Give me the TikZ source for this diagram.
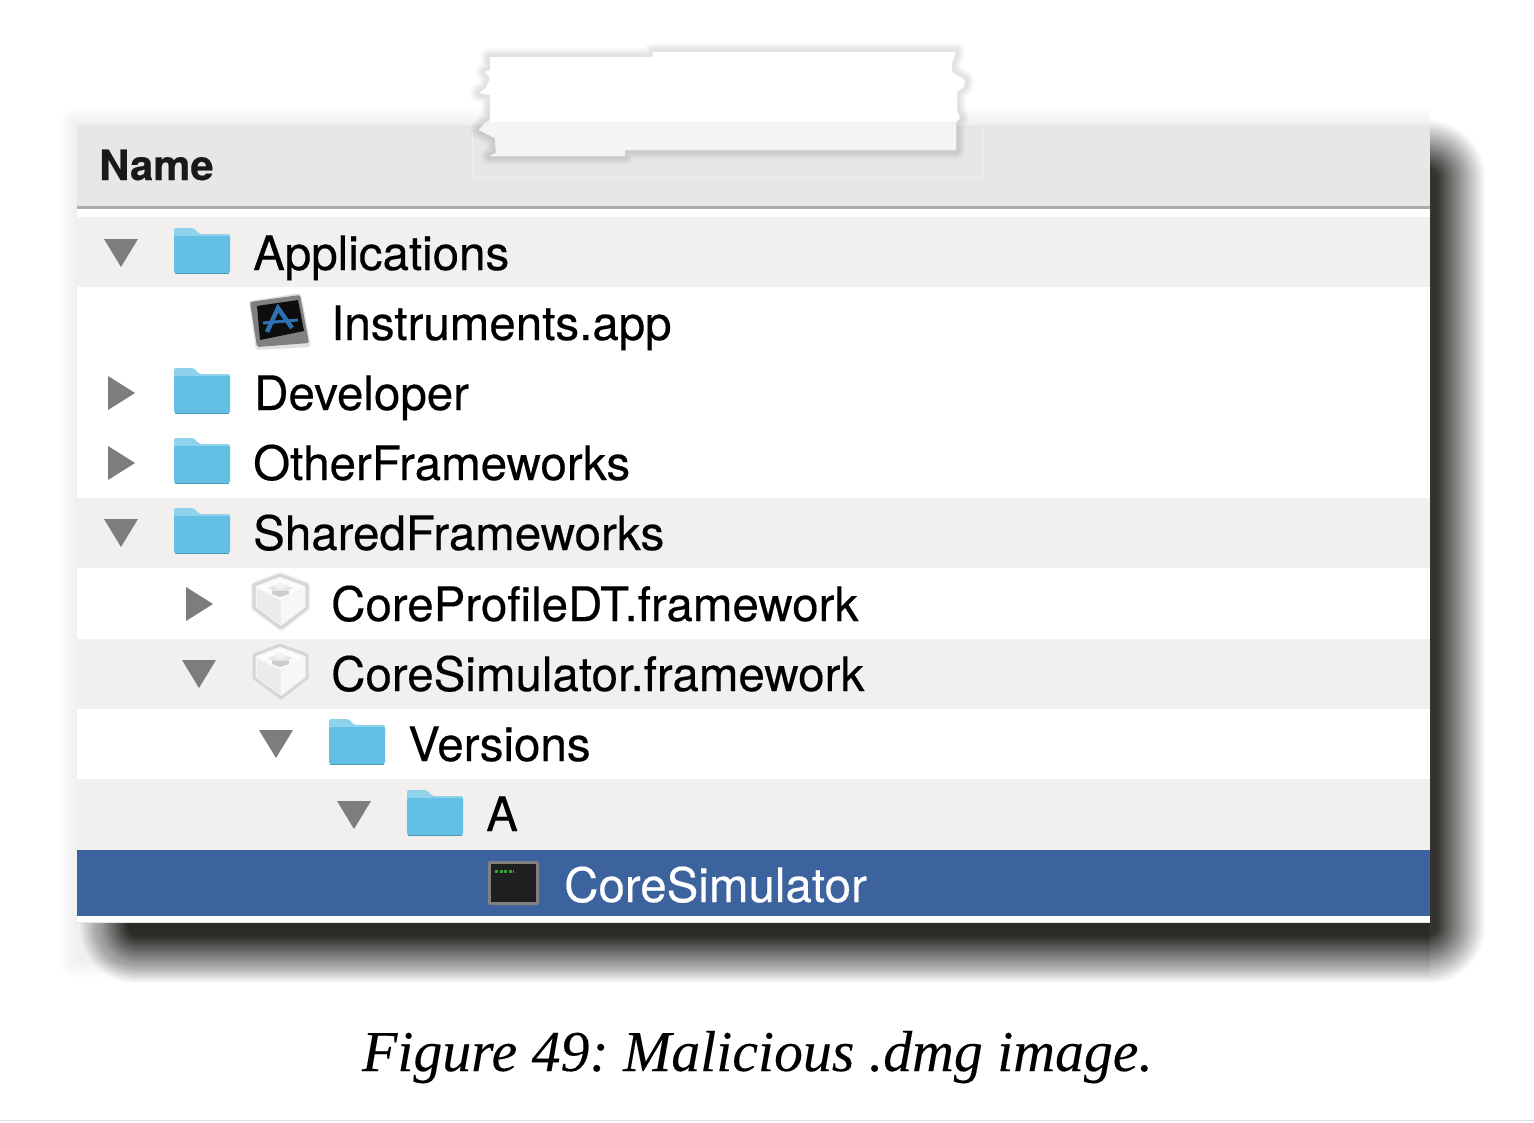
\documentclass[tikz,border=0pt]{standalone}
\usepackage{fontspec}
\setmainfont{TeX Gyre Heros}
\newfontfamily\rowfont[FakeBold=0.35]{TeX Gyre Heros}
\newfontfamily\namefont[FakeBold=0.35]{TeX Gyre Heros Bold}
\newfontfamily\captionfont[FakeBold=0.15]{Liberation Serif Italic}
\usetikzlibrary{calc}
\definecolor{headfill}{HTML}{E8E7E5}
\definecolor{stripefill}{HTML}{F1F0EE}
\definecolor{selfill}{HTML}{3C639D}
\definecolor{folderfill}{HTML}{63BFE4}
\definecolor{foldertab}{HTML}{8FD2EC}
\definecolor{triangfill}{HTML}{7B7D7E}
\definecolor{shadowink}{HTML}{2A2825}
\definecolor{patchlow}{HTML}{F5F4F2}
\definecolor{appblue}{HTML}{2F70B0}
\newcommand{\patchoutline}{(490,57) -- (653,57) -- (653,52) -- (956,52) -- (952,63) -- (952,72)
  -- (965,80) -- (964,87) -- (957,92) -- (957,110) -- (960,118) -- (956,122) -- (956,150)
  -- (625,150) -- (625,156) -- (490,156) -- (496,153) -- (495,138) -- (479,130) -- (485,123)
  -- (490,120) -- (490,95) -- (479,93) -- (486,88) -- (490,78) -- (485,72) -- (490,70) -- cycle}

\begin{document}
\begin{tikzpicture}[
  x=1pt, y=-1pt,
  rowtext/.style  = {anchor=base west, inner sep=0pt, text=black,
                     font=\fontsize{47.5}{47.5}\selectfont\rowfont},
  headtext/.style = {anchor=base west, inner sep=0pt, text=black!90,
                     font=\fontsize{41.8}{41.8}\selectfont\namefont},
  stripe/.style   = {fill=stripefill, draw=none},
  folder/.pic = {
    \fill[foldertab, rounded corners=2pt] (-28,-25) -- (-8,-25) -- (-3,-19) -- (28,-19)
        -- (28,-10) -- (-28,-10) -- cycle;
    \fill[folderfill, rounded corners=2pt] (-28,-17) -- (28,-17) -- (28,20) -- (-28,20) -- cycle;
    \fill[folderfill!80!black] (-27,20) rectangle (27,21);
  },
  treedown/.pic  = {\fill[triangfill] (-17,-14) -- (17,-14) -- (0,14) -- cycle;},
  treeright/.pic = {\fill[triangfill] (-13,-17) -- (14,0) -- (-13,17) -- cycle;},
  bundle/.pic = {
    \draw[black!6, line width=6pt, line join=round, fill=white]
        (-1,-28) -- (26,-18) -- (26,5) -- (0,25) -- (-27,5) -- (-27,-18) -- cycle;
    \draw[black!16, line width=3pt, line join=round, fill=black!4]
        (-1,-28) -- (26,-18) -- (26,5) -- (0,25) -- (-27,5) -- (-27,-18) -- cycle;
    \fill[black!1] (-1,-25) -- (23,-16) -- (0,-4) -- (-24,-16) -- cycle;
    \fill[black!8] (-24,-14) -- (0,-2) -- (0,22) -- (-24,4) -- cycle;
    \fill[black!3] (0,-2) -- (23,-14) -- (23,4) -- (0,22) -- cycle;
    \fill[black!10] (-13,-15) -- (-1,-20) -- (12,-15) -- (-1,-8) -- cycle;
    \fill[black!20] (-9,-12) -- (8,-12) -- (8,-9) -- (-1,-6) -- (-9,-9) -- cycle;
    \fill[black!5] (-8,-17) -- (-1,-20) -- (7,-17) -- (-1,-13) -- cycle;
  },
]
\useasboundingbox (0,0) rectangle (1534,1122);
% soft shadow, outermost ring first
\begin{scope}
\clip (50,125) rectangle (1485,982) (1430,95) rectangle (1485,125);
\foreach \d in {58,57,...,0}{
  \pgfmathsetmacro{\shade}{min(95,max(3,115-1.95*\d))}
  \fill[shadowink!\shade!white, rounded corners=\d*1pt]
      (138-\d,178-\d) rectangle (1427+\d,926+\d);
}
\end{scope}
% faint halo left of and above the window
\begin{scope}
\clip (50,95) rectangle (1430,982);
\foreach \d in {18,16,...,2}{
  \fill[shadowink, fill opacity=0.008, rounded corners=\d*1pt]
      (77-\d,125-\d) rectangle (1500,960+\d);
}
\end{scope}
% window
\fill[white] (77,125) rectangle (1430,923);
\fill[headfill] (77,125) rectangle (1430,206);
\draw[black!33, line width=3.5pt] (77,207.5) -- (1430,207.5);
\fill[stripe] (77,217) rectangle (1430,287);
\fill[stripe] (77,498) rectangle (1430,568);
\fill[stripe] (77,639) rectangle (1430,709);
\fill[stripe] (77,779) rectangle (1430,850);
\fill[selfill] (77,850) rectangle (1430,916);
\fill[black!10] (77,921.5) rectangle (1430,923);
\node[headtext] (nameHead) at (99,180) {Name};
% rows
\pic at (121,253) {treedown};
\pic at (202,253) {folder};
\node[rowtext] (appsRow) at (253,270) {Applications};
\begin{scope}[shift={(280,323)}]
  \fill[black!12, rounded corners=3pt] (-31,-22) -- (21,-30) -- (31,24) -- (-24,27) -- cycle;
  \fill[black!50, rounded corners=2pt] (-30,-21) -- (20,-28) -- (29,20) -- (-23,24) -- cycle;
  \fill[black!95] (-23,-17) -- (18,-23) -- (24,8) -- (-20,17) -- cycle;
  \draw[appblue, line width=4.5pt] (-13,9) -- (-2,-15) -- (12,5);
  \draw[appblue, line width=3pt] (-17,0) -- (18,-3);
\end{scope}
\node[rowtext] (instrRow) at (331,340) {Instruments.app};
\pic at (121,393) {treeright};
\pic at (202,393) {folder};
\node[rowtext] (devRow) at (254,410) {Developer};
\pic at (121,463) {treeright};
\pic at (202,463) {folder};
\node[rowtext] (otherRow) at (253,480) {OtherFrameworks};
\pic at (121,533) {treedown};
\pic at (202,533) {folder};
\node[rowtext] (sharedRow) at (253,550) {SharedFrameworks};
\pic at (199,604) {treeright};
\pic at (281,603) {bundle};
\node[rowtext] (profileRow) at (331,621) {CoreProfileDT.framework};
\pic at (199,674) {treedown};
\pic at (281,673) {bundle};
\node[rowtext] (simRow) at (331,691) {CoreSimulator.framework};
\pic at (276,744) {treedown};
\pic at (357,744) {folder};
\node[rowtext] (versRow) at (408,761) {Versions};
\pic at (354,815) {treedown};
\pic at (435,815) {folder};
\node[rowtext] (aRow) at (486,831) {A};
% selected row
\fill[black!50, rounded corners=1.5pt] (488,861) rectangle (539,905);
\fill[black!88] (491,864) rectangle (536,902);
\draw[green!55!black!80!white, line width=3pt, dash pattern=on 3pt off 1.5pt] (495,871) -- (514,871);
\node[rowtext, text=white] (binRow) at (564,902) {CoreSimulator};
% covered-up title
\draw[white, draw opacity=0.3, line width=0.6pt] (472,125) -- (472,177) -- (983,177) -- (983,125);
\foreach \w in {18,15,12,9,6}{
  \draw[black, draw opacity=0.025, line width=\w pt, line join=round] \patchoutline;
}
\fill[white] \patchoutline;
\begin{scope}
  \clip (470,122) rectangle (970,160);
  \fill[patchlow] \patchoutline;
\end{scope}
% caption
\node[inner sep=0pt, anchor=base, text=black, font=\fontsize{57.8}{57.8}\selectfont\captionfont\frenchspacing]
  (figCaption) at (757.5,1071) {Figure 49: Malicious .dmg image.};
\draw[black!12, line width=1pt] (0,1120.5) -- (1534,1120.5);
\end{tikzpicture}
\end{document}
